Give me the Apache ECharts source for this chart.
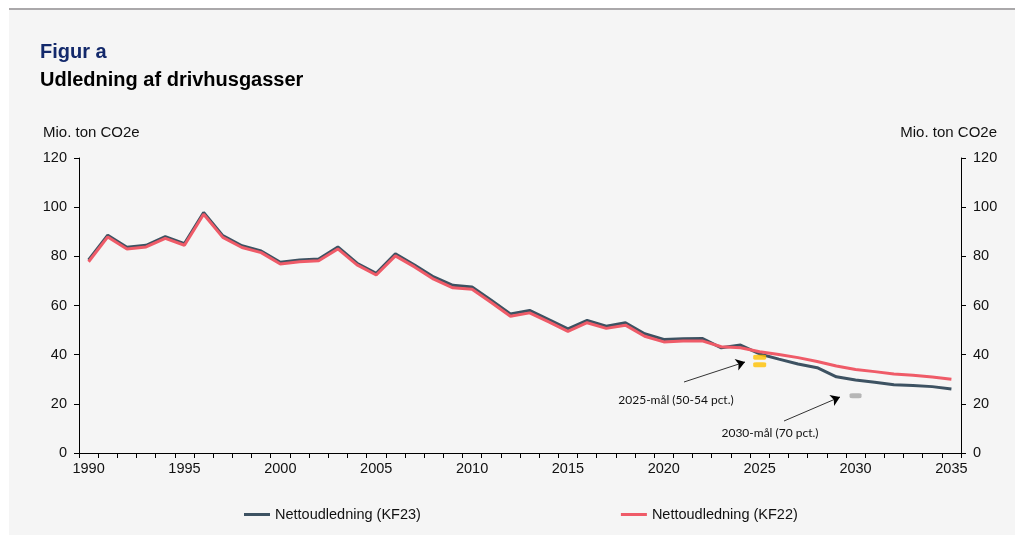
<!DOCTYPE html>
<html>
<head>
<meta charset="utf-8">
<script src="https://cdn.jsdelivr.net/npm/echarts@6/dist/echarts.min.js"></script>
<style>
	html, body { margin: 0; padding: 0; background: #fff; }
	.panel {
		position: absolute; left: 9px; top: 8px; right: 0; bottom: 0;
		background: #f5f5f5; border-top: 2px solid #aaa8aa;
	}
	#chart { position: absolute; left: 0; top: 0; width: 1015px; height: 535px; }
</style>
</head>
<body>
<div class="panel"></div>
<div id="chart"></div>
<script>
// years 1990-2035
const years = [];
for (let y = 1990; y <= 2035; y++) years.push(String(y));

// Nettoudledning, mio. ton CO2e
const kf23 = [78.5, 88.6, 83.7, 84.5, 88.0, 85.2, 97.8, 88.4, 84.3, 82.2,
	77.6, 78.5, 78.9, 83.8, 77.2, 73.1, 81.0, 76.5, 71.6, 68.2,
	67.5, 62.1, 56.6, 58.0, 54.3, 50.5, 53.9, 51.6, 53.0, 48.5,
	46.2, 46.5, 46.6, 42.8, 43.9, 40.3, 38.2, 36.2, 34.7, 31.0,
	29.7, 28.8, 27.8, 27.5, 27.0, 26.0];
const kf22 = [77.8, 87.9, 83.0, 83.8, 87.3, 84.5, 97.1, 87.7, 83.6, 81.5,
	76.9, 77.8, 78.2, 83.0, 76.5, 72.4, 80.2, 75.7, 70.7, 67.2,
	66.6, 61.2, 55.6, 57.0, 53.3, 49.5, 53.0, 50.7, 52.0, 47.5,
	45.2, 45.6, 45.6, 43.2, 42.8, 41.2, 40.1, 38.8, 37.2, 35.4,
	34.0, 33.1, 32.1, 31.6, 30.9, 30.0];

// reduction targets
const target2025 = [39.0, 35.9];
const target2030 = [23.3];

const yTicks = [0, 20, 40, 60, 80, 100, 120];

const FONT = '"Liberation Sans", Arial, sans-serif';
const labelFont = 'Lato, "Open Sans", sans-serif';

const chart = echarts.init(document.getElementById('chart'));

const yAxisBase = {
	type: 'value',
	min: yTicks[0],
	max: yTicks[yTicks.length - 1],
	interval: 20,
	splitLine: { show: false },
	axisLine: { show: true, lineStyle: { color: '#000', width: 1 } },
	axisTick: { show: true, length: 5, lineStyle: { color: '#000' } },
	axisLabel: { color: '#111', fontSize: 14.5, fontFamily: FONT, margin: 12 },
};

chart.setOption({
	animation: false,
	backgroundColor: 'transparent',
	textStyle: { fontFamily: FONT },
	grid: { left: 79, right: 54, top: 158, bottom: 82 },
	legend: {
		data: ['Nettoudledning (KF23)', 'Nettoudledning (KF22)'],
		left: 239,
		top: 502,
		icon: 'rect',
		itemWidth: 26,
		itemHeight: 3,
		itemGap: 200,
		textStyle: { color: '#111', fontSize: 14.5, fontFamily: FONT },
	},
	xAxis: {
		type: 'category',
		data: years,
		boundaryGap: true,
		axisLine: { lineStyle: { color: '#000', width: 1 } },
		axisTick: { show: true, interval: 0, length: 5, lineStyle: { color: '#000' } },
		axisLabel: { interval: 4, color: '#111', fontSize: 14.5, fontFamily: FONT, margin: 8 },
	},
	yAxis: [
		Object.assign({}, yAxisBase, { position: 'left' }),
		Object.assign({}, yAxisBase, { position: 'right' }),
	],
	graphic: [
		{ type: 'text', left: 40, top: 42, style: { text: 'Figur a', font: 'bold 20px ' + FONT, fill: '#13296b' } },
		{ type: 'text', left: 40, top: 70, style: { text: 'Udledning af drivhusgasser', font: 'bold 20px ' + FONT, fill: '#000' } },
		{ type: 'text', left: 43, top: 125, style: { text: 'Mio. ton CO2e', font: '15px ' + FONT, fill: '#111' } },
		{ type: 'text', right: 18, top: 125, style: { text: 'Mio. ton CO2e', font: '15px ' + FONT, fill: '#111' } },
		{ type: 'text', x: 676, y: 400, style: { text: '2025-mål (50-54 pct.)', font: '12px ' + labelFont, fill: '#111', align: 'center', verticalAlign: 'middle' } },
		{ type: 'text', x: 770, y: 433, style: { text: '2030-mål (70 pct.)', font: '12px ' + labelFont, fill: '#111', align: 'center', verticalAlign: 'middle' } },
	],
	series: [
		{
			name: 'Nettoudledning (KF23)',
			type: 'line',
			data: kf23,
			symbol: 'none',
			color: '#3d5262',
			lineStyle: { width: 3, color: '#3d5262' },
			z: 2,
		},
		{
			name: 'Nettoudledning (KF22)',
			type: 'line',
			data: kf22,
			symbol: 'none',
			color: '#ef5b68',
			lineStyle: { width: 3, color: '#ef5b68' },
			z: 3,
		},
		{
			name: 'mål 2025',
			type: 'scatter',
			data: target2025.map(v => ['2025', v]),
			symbol: 'roundRect',
			symbolSize: [13, 5],
			itemStyle: { color: '#ffc000' },
			z: 4,
			markLine: {
				silent: true,
				animation: false,
				symbol: ['none', 'arrow'],
				symbolSize: 9,
				label: { show: false },
				lineStyle: { color: '#000', width: 0.8, type: 'solid' },
				data: [
					[{ x: 684, y: 382 }, { x: 745, y: 362 }],
					[{ x: 784, y: 421 }, { x: 840, y: 397 }],
				],
			},
		},
		{
			name: 'mål 2030',
			type: 'scatter',
			data: target2030.map(v => ['2030', v]),
			symbol: 'roundRect',
			symbolSize: [12, 5],
			itemStyle: { color: '#a6a6a6' },
			z: 4,
		},
	],
});
</script>
</body>
</html>
